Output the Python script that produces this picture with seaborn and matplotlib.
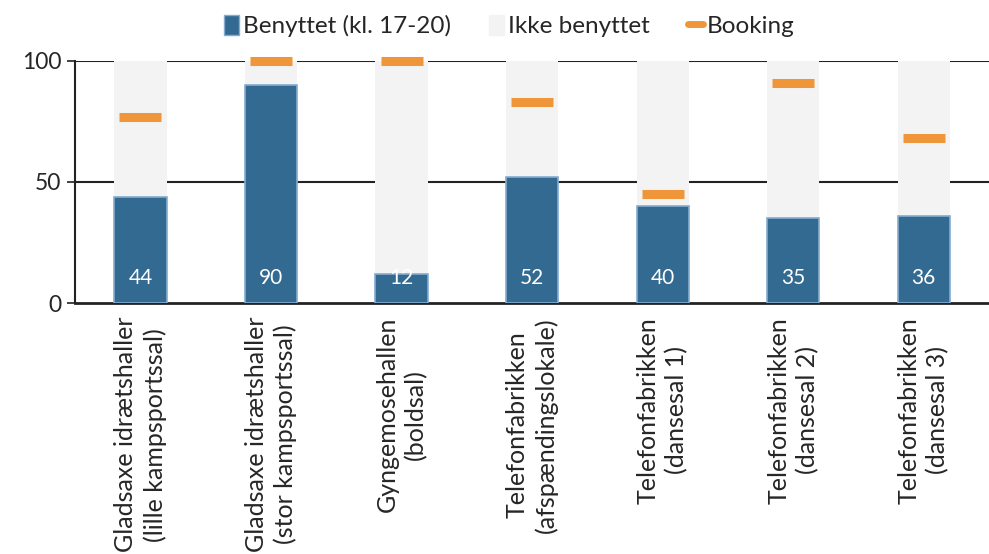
import pandas as pd
import seaborn as sns
import matplotlib.pyplot as plt
from matplotlib.patches import Patch
from matplotlib.lines import Line2D

venues = ["Gladsaxe idrætshaller\n(lille kampsportssal)",
          "Gladsaxe idrætshaller\n(stor kampsportssal)",
          "Gyngemosehallen\n(boldsal)",
          "Telefonfabrikken\n(afspændingslokale)",
          "Telefonfabrikken\n(dansesal 1)",
          "Telefonfabrikken\n(dansesal 2)",
          "Telefonfabrikken\n(dansesal 3)"]
used = [44, 90, 12, 52, 40, 35, 36]
total = [100, 100, 100, 100, 100, 100, 100]
booking = [77, 100, 100, 83, 45, 91, 68]

df = pd.DataFrame({"venue": venues, "used": used, "total": total, "booking": booking})

blue, grey, orange = "#336a91", "#f2f3f2", "#f0963a"

sns.set_style("white")
plt.rcParams['font.family'] = ['Lato', 'DejaVu Sans']

fig = plt.figure(figsize=(9.89, 5.54), dpi=100)
ax = fig.add_axes([0.076, 0.453, 0.924, 0.437])

for y in [50, 100]:
    ax.axhline(y, color="#222222", lw=1.5, zorder=0)

sns.barplot(data=df, x="venue", y="total", color=grey, width=0.4, saturation=1,
            ax=ax, zorder=2, linewidth=0)
sns.barplot(data=df, x="venue", y="used", color=blue, width=0.4, saturation=1,
            ax=ax, zorder=3, edgecolor="#85abd0", linewidth=1.2)
sns.scatterplot(data=df, x="venue", y="booking", marker="_", s=30**2, linewidth=6.5,
                color=orange, ax=ax, zorder=4, legend=False)
ax.collections[-1].set_clip_on(False)

for i, v in enumerate(used):
    ax.text(i, 10.5, str(v), color="white", ha="center", va="center", fontsize=15, zorder=5)

ax.set_ylim(0, 100)
ax.set_xlim(-0.5, len(venues) - 0.5)
ax.set_yticks([0, 50, 100])
ax.set_xlabel("")
ax.set_ylabel("")
ax.tick_params(axis="y", labelsize=16.5, length=6, width=1.2, color="#222222", left=True, pad=4)
ax.tick_params(axis="x", labelsize=18, length=0, pad=10)
plt.setp(ax.get_xticklabels(), rotation=90, ha="center", va="top",
         multialignment="center", linespacing=1.3)
for s in ["top", "right"]:
    ax.spines[s].set_visible(False)
ax.spines["left"].set_color("#222222")
ax.spines["left"].set_linewidth(1.5)
ax.spines["bottom"].set_color("#222222")
ax.spines["bottom"].set_linewidth(2)

handles = [Patch(facecolor=blue, edgecolor="#85abd0", label="Benyttet (kl. 17-20)"),
           Patch(facecolor=grey, edgecolor=grey, label="Ikke benyttet"),
           Line2D([0], [0], color=orange, lw=5, label="Booking")]
fig.legend(handles=handles, loc="center", bbox_to_anchor=(0.515, 0.953), ncol=3,
           frameon=False, fontsize=17.5, handlelength=0.6, handleheight=0.9,
           handletextpad=0.15, columnspacing=1.6)

fig.savefig("out.png", dpi=100)
